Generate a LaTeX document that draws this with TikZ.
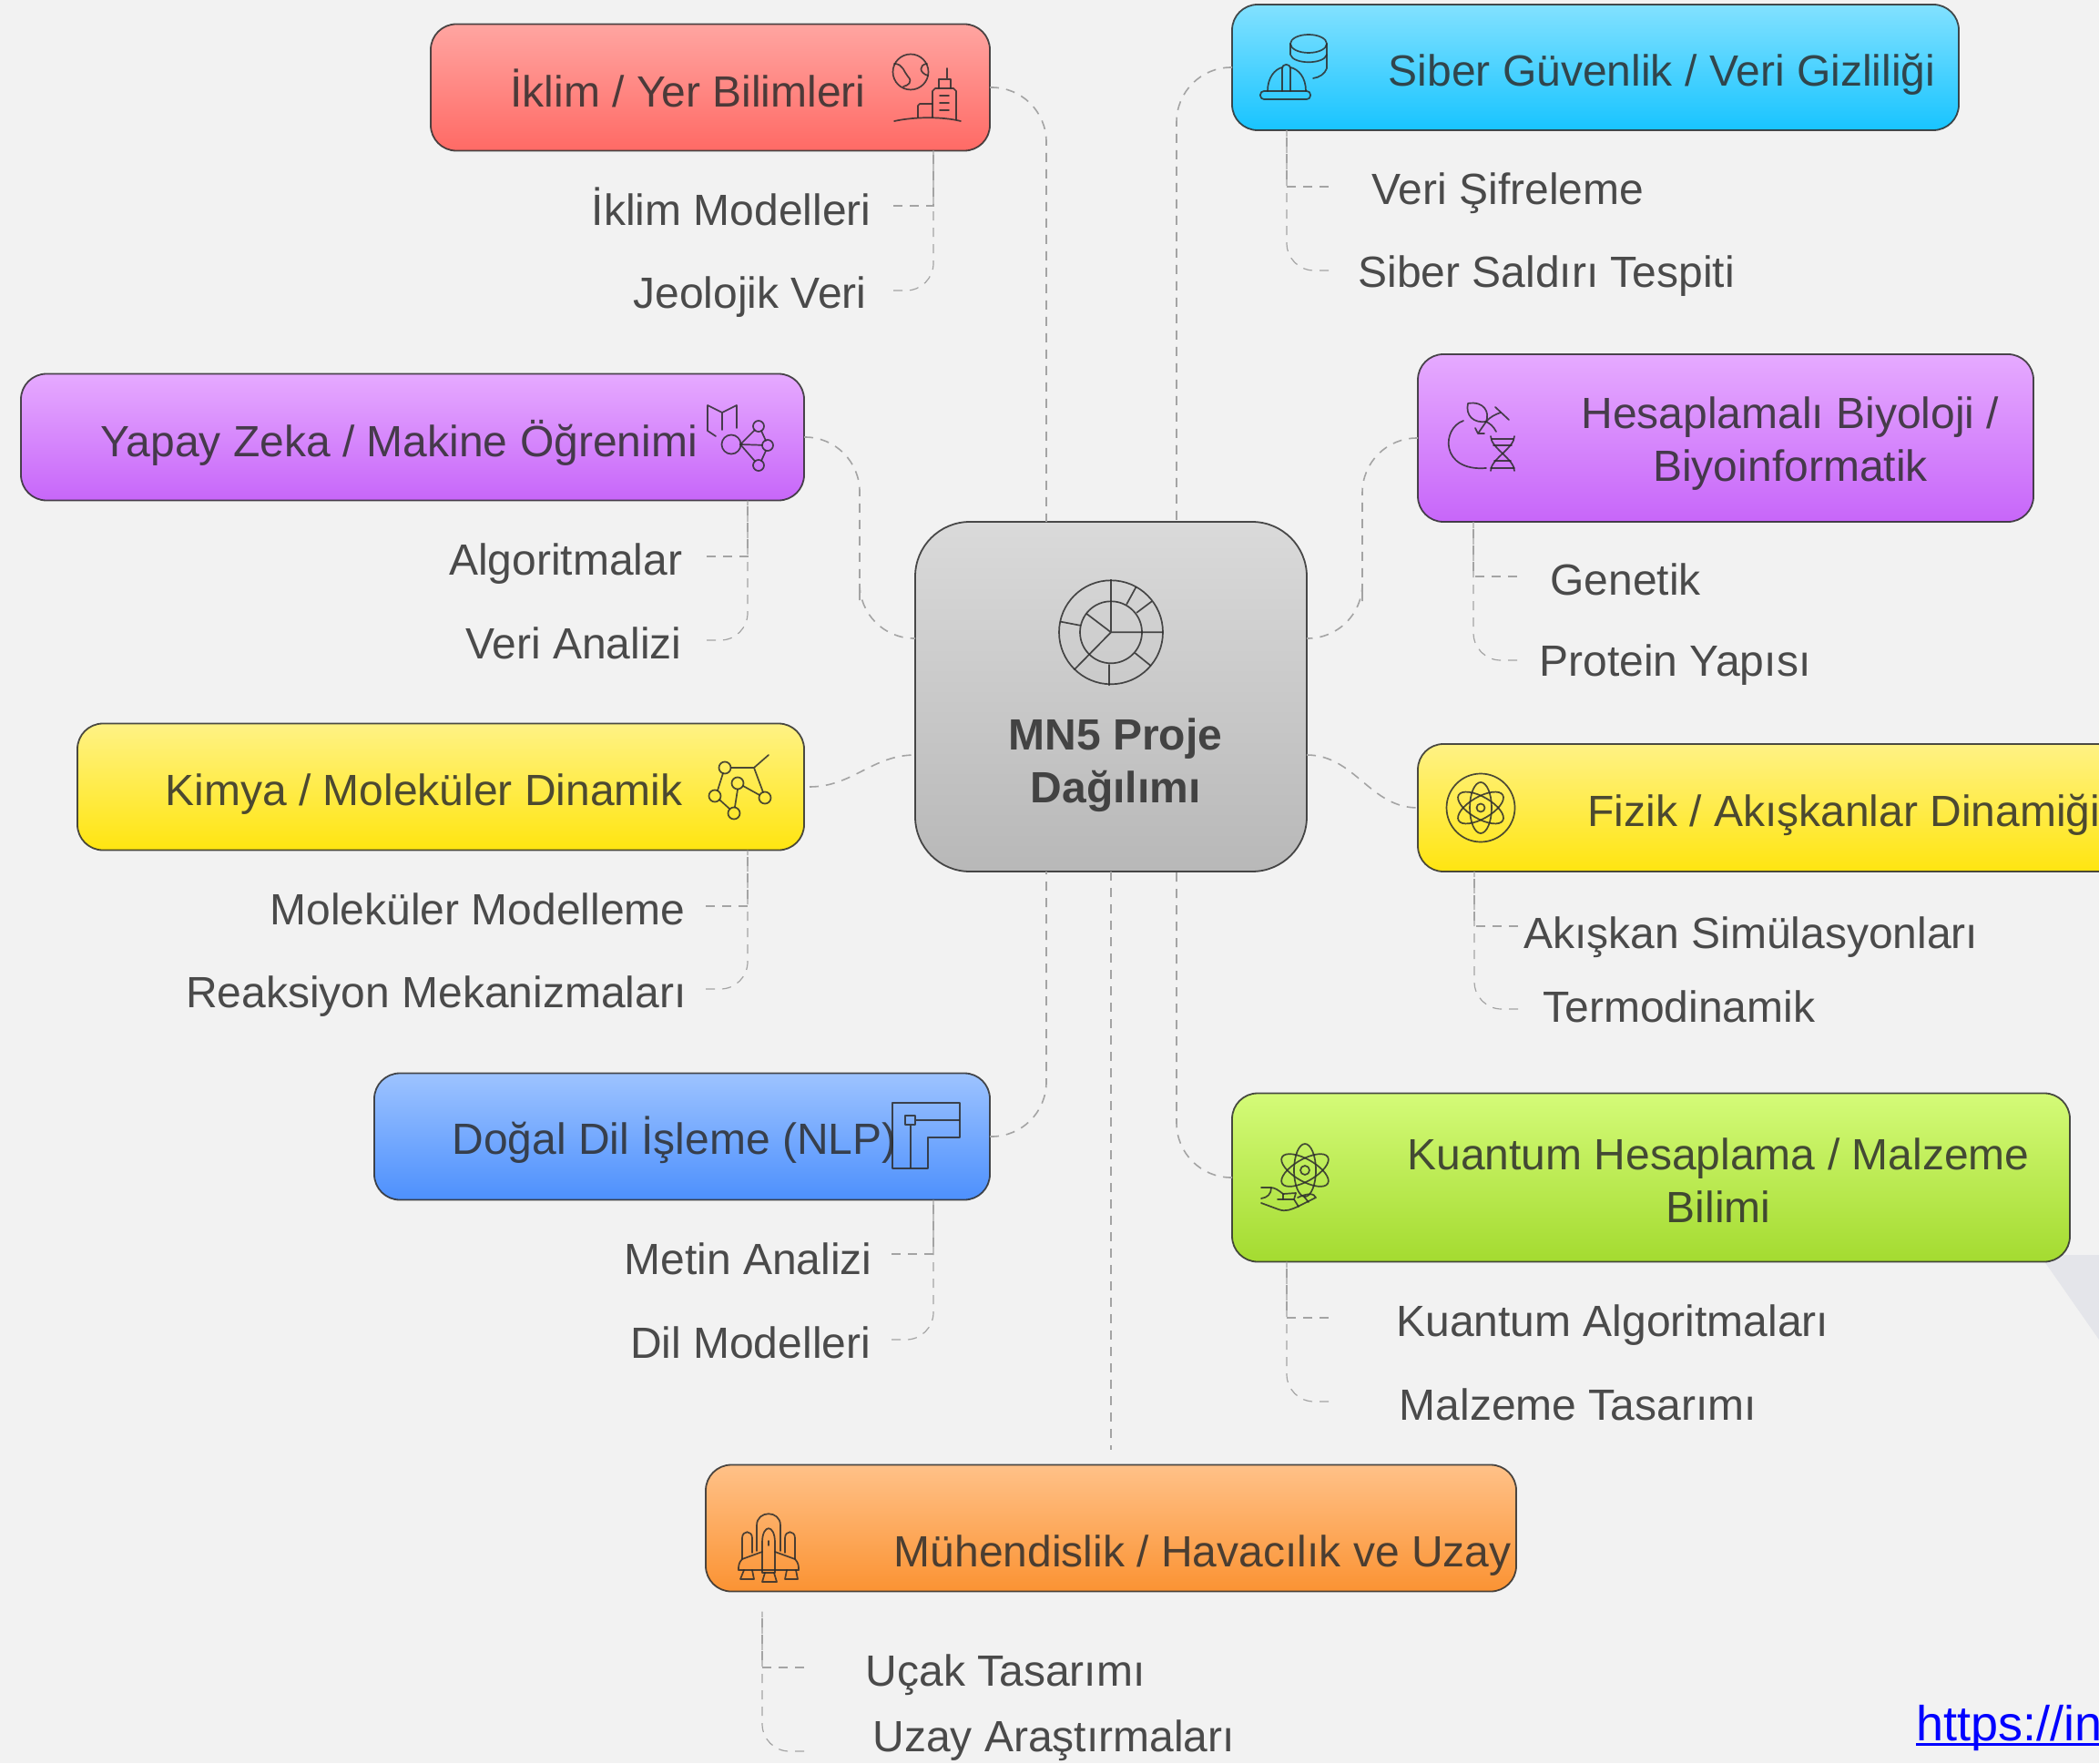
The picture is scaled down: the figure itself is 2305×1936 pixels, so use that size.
\documentclass[tikz,border=0pt]{standalone}
\usepackage{fontspec}
\setmainfont{Liberation Sans}
\usetikzlibrary{positioning}
\definecolor{ink}{HTML}{2D2D2D}
\definecolor{pagebg}{HTML}{F2F2F2}
\definecolor{dashgray}{HTML}{A4A4A4}
\definecolor{wedgegray}{HTML}{E4E5EA}
\definecolor{greyA}{HTML}{DADADA}\definecolor{greyB}{HTML}{B8B8B8}
\definecolor{redA}{HTML}{FFA5A1}\definecolor{redB}{HTML}{FF6A65}
\definecolor{purpleA}{HTML}{E6AAFF}\definecolor{purpleB}{HTML}{C766F9}
\definecolor{yellowA}{HTML}{FFF285}\definecolor{yellowB}{HTML}{FFE510}
\definecolor{blueA}{HTML}{9DC3FF}\definecolor{blueB}{HTML}{4D90FD}
\definecolor{orangeA}{HTML}{FFC188}\definecolor{orangeB}{HTML}{FB9333}
\definecolor{cyanA}{HTML}{82E1FF}\definecolor{cyanB}{HTML}{18C4FF}
\definecolor{greenA}{HTML}{D4FB78}\definecolor{greenB}{HTML}{A4DB30}
\tikzset{
  catbox/.style 2 args={draw=ink,draw opacity=.85,line width=.9pt,top color=#1,bottom color=#2,
    rounded corners=14pt,inner sep=0pt,outer sep=0pt,minimum height=69.5pt},
  cattext/.style={text=ink,text opacity=.85,font=\fontsize{24}{28.8}\selectfont,inner sep=0pt},
  leafleft/.style={cattext,anchor=east,text height=20pt,text depth=0pt},
  leafright/.style={cattext,anchor=west,text height=20pt,text depth=0pt},
  mainlink/.style={draw=dashgray,line width=.8pt,dash pattern=on 5pt off 4pt},
  twig/.style={draw=dashgray,line width=.6pt,dash pattern=on 5pt off 4pt},
  iconline/.style={draw=ink,draw opacity=.85,line width=.85pt,line cap=round,line join=round}
}
\begin{document}
\begin{tikzpicture}[x=.5pt,y=-.5pt]
  \useasboundingbox (0,0) rectangle (2305,1936);
  \clip (0,0) rectangle (2305,1936);
  \fill[pagebg] (0,0) rectangle (2305,1936);
  \fill[wedgegray] (2240,1378) -- (2305,1378) -- (2305,1471) -- cycle;

  % boxes
  \node[catbox={greyA}{greyB},rounded corners=30pt,minimum width=215pt,minimum height=192pt] at (1220,765) (mn) {};
  \node[catbox={redA}{redB},minimum width=307pt] at (780,96) (iklim) {};
  \node[catbox={purpleA}{purpleB},minimum width=430pt] at (453,480) (yapay) {};
  \node[catbox={yellowA}{yellowB},minimum width=399pt] at (484,864) (kimya) {};
  \node[catbox={blueA}{blueB},minimum width=338pt] at (749,1248) (dogal) {};
  \node[catbox={orangeA}{orangeB},minimum width=445pt] at (1220,1678) (muh) {};
  \node[catbox={cyanA}{cyanB},minimum width=399pt,minimum height=69pt] at (1752,74) (siber) {};
  \node[catbox={purpleA}{purpleB},minimum width=338pt,minimum height=92pt] at (1895,481) (hesap) {};
  \node[catbox={yellowA}{yellowB},minimum width=394pt,minimum height=70pt] at (1951,887) (fizik) {};
  \node[catbox={greenA}{greenB},minimum width=460pt,minimum height=92.5pt] at (1813,1293) (kuantum) {};

  % box labels
  \node[cattext,align=center,font=\fontsize{24}{28.8}\selectfont\bfseries] at (1225,840) (mntext) {MN5 Proje\\Dağılımı};
  \node[cattext,anchor=base west] at (560,118) (iklimtext) {İklim / Yer Bilimleri};
  \node[cattext,anchor=base west] at (110,501.5) (yapaytext) {Yapay Zeka / Makine Öğrenimi};
  \node[cattext,anchor=base west] at (181,884.5) (kimyatext) {Kimya / Moleküler Dinamik};
  \node[cattext,anchor=base west] at (496,1267) (dogaltext) {Doğal Dil İşleme (NLP)};
  \node[cattext,anchor=base west] at (981.5,1720) (muhtext) {Mühendislik / Havacılık ve Uzay};
  \node[cattext,anchor=base west] at (1524.5,94.5) (sibertext) {Siber Güvenlik / Veri Gizliliği};
  \node[cattext,align=center] at (1966,487) (hesaptext) {Hesaplamalı Biyoloji /\\Biyoinformatik};
  \node[cattext,anchor=base west] at (1743,907) (fiziktext) {Fizik / Akışkanlar Dinamiği};
  \node[cattext,align=center] at (1887,1296) (kuantumtext) {Kuantum Hesaplama / Malzeme\\Bilimi};

  % leaves
  \node[leafleft] at (957,228) (ik1) {İklim Modelleri};
  \node[leafleft] at (952,319) (ik2) {Jeolojik Veri};
  \node[leafleft] at (749.5,611) (ya1) {Algoritmalar};
  \node[leafleft] at (749,703) (ya2) {Veri Analizi};
  \node[leafleft] at (753,995) (ki1) {Moleküler Modelleme};
  \node[leafleft] at (754,1086) (ki2) {Reaksiyon Mekanizmaları};
  \node[leafleft] at (958,1379) (do1) {Metin Analizi};
  \node[leafleft] at (956.5,1471) (do2) {Dil Modelleri};
  \node[leafright] at (950.5,1831) (mu1) {Uçak Tasarımı};
  \node[leafright] at (958,1903) (mu2) {Uzay Araştırmaları};
  \node[leafright] at (1506,205) (si1) {Veri Şifreleme};
  \node[leafright] at (1491,296) (si2) {Siber Saldırı Tespiti};
  \node[leafright] at (1702,633) (he1) {Genetik};
  \node[leafright] at (1690,722) (he2) {Protein Yapısı};
  \node[leafright] at (1673,1021) (fi1) {Akışkan Simülasyonları};
  \node[leafright] at (1694,1102) (fi2) {Termodinamik};
  \node[leafright] at (1533,1447) (ku1) {Kuantum Algoritmaları};
  \node[leafright] at (1536.5,1539) (ku2) {Malzeme Tasarımı};

  \node[anchor=base west,inner sep=0pt,text=blue,font=\fontsize{27}{31}\selectfont] at (2104,1911) (urltext) {\rlap{\rule[-3pt]{110pt}{1.4pt}}https://in};

  % main links
  \coordinate (yapaymid) at (944,600);
  \coordinate (hesapmid) at (1496,600);
  \draw[mainlink,rounded corners=30pt] (iklim.east) -| ([xshift=72pt]mn.north west);
  \draw[mainlink,rounded corners=30pt] (yapay.east) -| (yapaymid) |- ([yshift=32pt]mn.west);
  \draw[mainlink] ([xshift=3pt]kimya.east) to[out=0,in=180] ([yshift=-32pt]mn.west);
  \draw[mainlink,rounded corners=30pt] (dogal.east) -| ([xshift=72pt]mn.south west);
  \draw[mainlink] (mn.south) -- ([yshift=8.5pt]muh.north);
  \draw[mainlink,rounded corners=30pt] (siber.west) -| ([xshift=143.5pt]mn.north west);
  \draw[mainlink,rounded corners=30pt] (hesap.west) -| (hesapmid) |- ([yshift=32pt]mn.east);
  \draw[mainlink] ([yshift=-32pt]mn.east) to[out=0,in=180] (fizik.west);
  \draw[mainlink,rounded corners=30pt] (kuantum.west) -| ([xshift=143.5pt]mn.south west);

  % twigs
  \coordinate (ik0) at ([xshift=-31pt]iklim.south east);
  \coordinate (ya0) at ([xshift=-31pt]yapay.south east);
  \coordinate (ki0) at ([xshift=-31pt]kimya.south east);
  \coordinate (do0) at ([xshift=-31pt]dogal.south east);
  \coordinate (mu0) at ([xshift=31pt,yshift=-11pt]muh.south west);
  \coordinate (si0) at ([xshift=30pt]siber.south west);
  \coordinate (he0) at ([xshift=30.5pt]hesap.south west);
  \coordinate (fi0) at ([xshift=31pt]fizik.south west);
  \coordinate (ku0) at ([xshift=30pt]kuantum.south west);
  \draw[twig] ([xshift=12pt,yshift=1pt]ik1.east) -| (ik0);
  \draw[twig,rounded corners=15pt] ([xshift=14.5pt]ik2.east) -| (ik0);
  \draw[twig] ([xshift=13.25pt]ya1.east) -| (ya0);
  \draw[twig,rounded corners=15pt] ([xshift=13.5pt]ya2.east) -| (ya0);
  \draw[twig] ([xshift=11pt]ki1.east) -| (ki0);
  \draw[twig,rounded corners=15pt] ([xshift=10.5pt]ki2.east) -| (ki0);
  \draw[twig] ([xshift=10.5pt,yshift=1pt]do1.east) -| (do0);
  \draw[twig,rounded corners=15pt] ([xshift=11.25pt]do2.east) -| (do0);
  \draw[twig] ([xshift=-33.75pt]mu1.west) -| (mu0);
  \draw[twig,rounded corners=15pt] ([xshift=-37.5pt,yshift=-10pt]mu2.west) -| (mu0);
  \draw[twig] ([xshift=-23.5pt]si1.west) -| (si0);
  \draw[twig,rounded corners=15pt] ([xshift=-16pt,yshift=-.5pt]si2.west) -| (si0);
  \draw[twig] ([xshift=-18pt]he1.west) -| (he0);
  \draw[twig,rounded corners=15pt] ([xshift=-12pt,yshift=-1.5pt]he2.west) -| (he0);
  \draw[twig] ([xshift=-3pt,yshift=2pt]fi1.west) -| (fi0);
  \draw[twig,rounded corners=15pt] ([xshift=-13.5pt,yshift=-3pt]fi2.west) -| (fi0);
  \draw[twig] ([xshift=-37pt]ku1.west) -| (ku0);
  \draw[twig,rounded corners=15pt] ([xshift=-38.75pt]ku2.west) -| (ku0);

  % icon: centre wheel
  \draw[iconline] (1220,694.3) circle [radius=57] (1220,694.3) circle [radius=34];
  \draw[iconline] (1220,636.7) -- (1220,694.3) -- (1276.7,694.3) (1193.3,674) -- (1220,694.3) -- (1180,735);
  \foreach \ax/\ay/\bx/\by in {1237.3/663.3/1247.3/645,1248.3/672.7/1264.3/660.7,1246.7/717.3/1263.3/730.7,1218/730/1218/752.3,1186/686.7/1165/682.7}
    \draw[iconline] (\ax,\ay) -- (\bx,\by);

  % icon: globe and city
  \draw[iconline] (1000,79) circle [radius=19.5];
  \draw[iconline] (982,70) .. controls (992,70) and (993,80) .. (997,84) .. controls (1003,90) and (997,94) .. (992,95);
  \draw[iconline] (1018,70) .. controls (1009,71) and (1009,80) .. (1019,83);
  \draw[iconline] (1024,129) -- (1024,100) -- (1027,97) -- (1047,97) -- (1050,100) -- (1050,131);
  \draw[iconline] (1031,97) -- (1031,87) -- (1044,87) -- (1044,97) (1040,87) -- (1040,75);
  \foreach \wy in {105,113,121} \draw[iconline] (1032,\wy) -- (1042,\wy);
  \draw[iconline] (1008,129) -- (1008,116) -- (1010,114) -- (1024,114);
  \draw[iconline] (982,133) .. controls (1005,128) and (1035,128) .. (1055,133);

  % icon: book and graph
  \draw[iconline] (786,479) -- (777,473) -- (777,445) -- (793,453) -- (809,445) -- (809,470) (793,453) -- (793,472);
  \draw[iconline] (803,488) circle [radius=10.5];
  \foreach \gx/\gy in {833/468,843/489,833/511} {
    \draw[iconline] (\gx,\gy) circle [radius=6];
    \draw[iconline,shorten >=3pt] (813,488) -- (\gx,\gy);
  }
  \draw[iconline] (836,473) -- (841,484) (841,495) -- (836,506);

  % icon: molecule
  \foreach \mx/\my in {796/843,785/874,806/893,810/860,840/876} \draw[iconline] (\mx,\my) circle [radius=6.5];
  \draw[iconline] (803,843) -- (828,843) -- (844,829) (828,843) -- (838,870);
  \draw[iconline] (794,849) -- (788,868) (790,878) -- (801,888) (807,886) -- (810,867) (816,863) -- (834,873);

  % icon: sheet
  \draw[iconline,line cap=butt] (980,1211) -- (1054,1211) -- (1054,1249) -- (1019,1249) -- (1019,1283) -- (980,1283) -- cycle;
  \draw[iconline,line cap=butt] (994,1225) rectangle (1005,1235) (1005,1230) -- (1054,1230) (1000,1235) -- (1000,1283);

  % icon: shuttle
  \draw[iconline] (831,1703) -- (831,1675) .. controls (831,1658) and (857,1658) .. (857,1675) -- (857,1703);
  \draw[iconline] (837,1727) -- (837,1694) .. controls (837,1673) and (851,1673) .. (851,1694) -- (851,1727) -- cycle;
  \draw[iconline] (815,1712) -- (815,1689) .. controls (815,1680) and (826,1680) .. (826,1689) -- (826,1705);
  \draw[iconline] (862,1705) -- (862,1689) .. controls (862,1680) and (873,1680) .. (873,1689) -- (873,1712);
  \draw[iconline] (837,1704) -- (815,1712) .. controls (811,1716) and (811,1720) .. (811,1724) -- (877,1724) .. controls (877,1720) and (877,1716) .. (873,1712) -- (851,1704);
  \draw[iconline] (817,1724) -- (813,1734) -- (828,1734) -- (826,1724);
  \draw[iconline] (840,1727) -- (837,1737) -- (853,1737) -- (850,1727);
  \draw[iconline] (864,1724) -- (862,1734) -- (876,1734) -- (874,1724);
  \draw[iconline] (844,1692) -- (844,1697);

  % icon: helmet and cylinder
  \draw[iconline] (1437,48) ellipse [x radius=20,y radius=10];
  \draw[iconline] (1417,48) -- (1417,60) .. controls (1420,71) and (1454,71) .. (1457,60);
  \draw[iconline] (1457,48) -- (1457,75) .. controls (1455,81) and (1449,85) .. (1442,86);
  \draw[iconline,rounded corners=2pt] (1384,100) rectangle (1439,109);
  \draw[iconline] (1392,100) .. controls (1392,85) and (1400,76) .. (1408,74) (1417,74) .. controls (1426,76) and (1434,85) .. (1434,100);
  \draw[iconline,rounded corners=2pt] (1408,100) -- (1408,71) -- (1417,71) -- (1417,100);

  % icon: apple and helix
  \draw[iconline] (1607,462) .. controls (1583,470) and (1581,518) .. (1632,514);
  \draw[iconline] (1612,443) .. controls (1630,440) and (1636,453) .. (1632,463) .. controls (1618,465) and (1609,456) .. (1612,443);
  \draw[iconline] (1632,463) -- (1623,476) (1620,470) -- (1623,476) -- (1630,476);
  \draw[iconline] (1643,474) .. controls (1640,468) and (1636,465) .. (1632,463) .. controls (1636,458) and (1642,455) .. (1648,453);
  \draw[iconline] (1642,447) -- (1657,461);
  \draw[iconline] (1637,479) .. controls (1637,492) and (1663,504) .. (1663,517);
  \draw[iconline] (1663,479) .. controls (1663,492) and (1637,504) .. (1637,517);
  \foreach \ry/\rx/\rz in {482/1638/1662,489/1640/1660,506/1641/1659,514/1637/1663} \draw[iconline] (\rx,\ry) -- (\rz,\ry);

  % icon: atom in a ring
  \draw[iconline] (1626,887) circle [radius=37.5] (1626,887) circle [radius=4.5];
  \foreach \ang in {0,60,-60}
    \draw[iconline,rotate around={\ang:(1626,887)}] (1626,887) ellipse [x radius=12,y radius=28];

  % icon: atom on a hand
  \draw[iconline] (1433,1285) circle [radius=5];
  \foreach \ang in {0,60,-60}
    \draw[iconline,rotate around={\ang:(1433,1285)}] (1433,1285) ellipse [x radius=12,y radius=29];
  \draw[iconline] (1385,1304) -- (1395,1304) .. controls (1400,1304) and (1404,1307) .. (1409,1311) -- (1423,1310) -- (1421,1317) -- (1403,1317);
  \draw[iconline] (1409,1311) -- (1409,1317) (1396,1304) .. controls (1396,1311) and (1392,1315) .. (1385,1316);
  \draw[iconline] (1385,1321) -- (1404,1328) .. controls (1412,1331) and (1418,1328) .. (1425,1325) -- (1445,1315) .. controls (1443,1310) and (1436,1310) .. (1425,1315);
  \draw[iconline] (1421,1317) -- (1426,1325) (1432,1314) -- (1437,1320);
\end{tikzpicture}
\end{document}
